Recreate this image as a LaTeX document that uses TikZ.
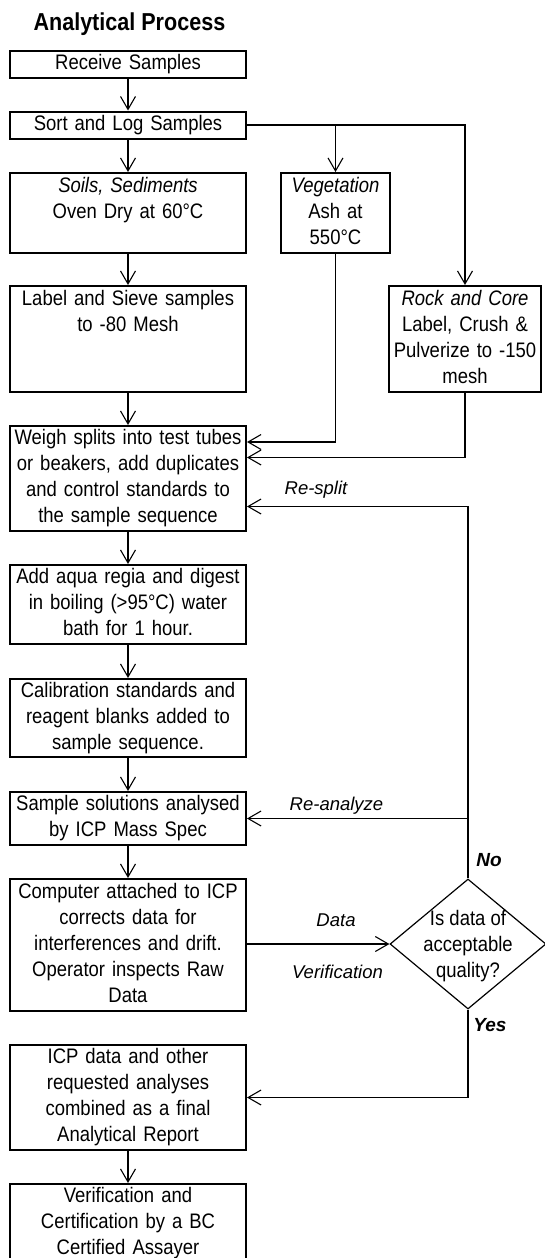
\documentclass[tikz,border=0pt]{standalone}
\usepackage{fontspec}
\setmainfont{Liberation Sans}[FakeStretch=0.88]
\newfontfamily\labelfont{Liberation Sans}
\usetikzlibrary{arrows.meta,shapes.geometric}

\begin{document}
\begin{tikzpicture}[x=1pt, y=-1pt, >={Straight Barb[length=13pt,width=15pt]},
    font=\fontsize{21}{26}\selectfont,
    box/.style={draw, line width=2pt, inner xsep=2pt, inner ysep=0pt, align=center,
      minimum width=236pt, text width=230pt,
      execute at begin node=\strut, execute at end node=\strut},
    flow/.style={->, line width=1.1pt},
    note/.style={font=\labelfont\fontsize{18.5}{22}\selectfont\itshape},
    answer/.style={font=\labelfont\fontsize{19}{22}\selectfont\bfseries\itshape}]
  \useasboundingbox (0,0) rectangle (544,1258);

  \node[anchor=base west, font=\fontsize{24.5}{28}\selectfont\bfseries] (title) at (30,30) {Analytical Process};

  \node[box, minimum height=27pt] (recv) at (128,64) {Receive Samples};
  \node[box, minimum height=27pt] (sort) at (128,125) {Sort and Log Samples};
  \node[box, minimum height=80pt] (soils) at (128,213) {\textit{Soils, Sediments}\\Oven Dry at 60°C\\\mbox{}};
  \node[box, minimum width=109pt, text width=105pt, minimum height=80pt] (veg) at (335.5,213) {\textit{Vegetation}\\Ash at\\550°C};
  \node[box, minimum height=106pt] (label) at (128,339) {Label and Sieve samples\\to -80 Mesh\\\mbox{}\\\mbox{}};
  \node[box, minimum width=152pt, text width=148pt, minimum height=106pt] (rock) at (465,339) {\textit{Rock and Core}\\Label, Crush \&\\Pulverize to -150\\mesh};
  \node[box, minimum height=105pt] (weigh) at (128,478.5) {Weigh splits into test tubes\\or beakers, add duplicates\\and control standards to\\the sample sequence};
  \node[box, minimum height=79pt] (aqua) at (128,604.5) {Add aqua regia and digest\\in boiling (>95°C) water\\bath for 1 hour.};
  \node[box, minimum height=78pt] (calib) at (128,718) {Calibration standards and\\reagent blanks added to\\sample sequence.};
  \node[box, minimum height=53pt] (solns) at (128,818.5) {Sample solutions analysed\\by ICP Mass Spec};
  \node[box, minimum height=132pt] (comp) at (128,945) {Computer attached to ICP\\corrects data for\\interferences and drift.\\Operator inspects Raw\\Data};
  \node[box, minimum height=105pt] (report) at (128,1097.5) {ICP data and other\\requested analyses\\combined as a final\\Analytical Report};
  \node[box, minimum height=79pt] (cert) at (128,1223.5) {Verification and\\Certification by a BC\\Certified Assayer};

  \node[draw, diamond, line width=1.2pt, minimum width=156pt, minimum height=130pt, inner sep=0pt] (qual) at (468,944) {};
  \node[align=center] (qualtext) at ([yshift=-2pt]qual.center) {Is data of\\acceptable\\quality?};

  \draw[flow] (recv) -- (sort);
  \draw[flow] (sort) -- (soils);
  \draw[flow] (sort.east) -| (rock.north);
  \draw[flow] (veg.north |- sort.east) -- (veg);
  \draw[flow] (soils) -- (label);
  \draw[flow] (label) -- (weigh);
  \draw[flow] (veg) |- ([yshift=36.5pt]weigh.east);
  \draw[flow] (rock) |- ([yshift=21pt]weigh.east);
  \draw[flow] (qual) |- ([yshift=-28pt]weigh.east);
  \draw[flow] (weigh) -- (aqua);
  \draw[flow] (aqua) -- (calib);
  \draw[flow] (calib) -- (solns);
  \draw[flow] (solns) -- (comp);
  \draw[flow] (qual.north |- solns.east) -- (solns);
  \draw[flow] (comp.east |- qual.west) -- (qual.west);
  \draw[flow] (qual) |- (report);
  \draw[flow] (report) -- (cert);

  \node[note] (resplit) at (316,490) {Re-split};
  \node[note] (reanalyze) at (336.5,806) {Re-analyze};
  \node[note] (datalbl) at (336,920) {Data};
  \node[note] (veriflbl) at (337.5,972) {Verification};
  \node[answer] (nolbl) at (489,860) {No};
  \node[answer] (yeslbl) at (490,1025) {Yes};
\end{tikzpicture}
\end{document}
